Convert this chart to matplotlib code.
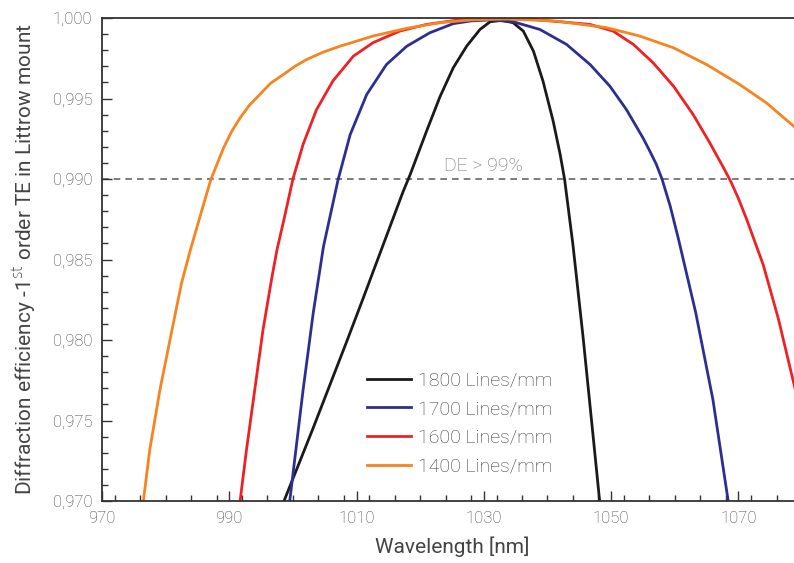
import matplotlib.pyplot as plt
from matplotlib.ticker import MultipleLocator, FuncFormatter

# values
wl_1800 = [997.9, 998.6, 1003.1, 1005.8, 1008.4, 1011.0, 1013.7, 1017.3, 1018.4, 1021.0, 1023.1, 1025.2,
           1027.3, 1029.4, 1031.0, 1032.8, 1034.6, 1036.2, 1037.8, 1039.3, 1040.9, 1042.0,
           1042.7, 1044.0, 1045.6, 1047.2, 1048.2, 1048.4]
de_1800 = [0.9693, 0.9700, 0.97445, 0.97720, 0.97985, 0.98255, 0.98540, 0.98920, 0.99025, 0.99297, 0.99510, 0.99691,
           0.99825, 0.99929, 0.99977, 0.99985, 0.99971, 0.99919, 0.99794, 0.99608, 0.99359, 0.99152,
           0.98996, 0.98593, 0.98017, 0.97393, 0.97000, 0.96920]

wl_1700 = [999.3, 999.5, 1001.6, 1003.2, 1004.8, 1007.1, 1009.0, 1011.6, 1014.7, 1017.9,
           1021.5, 1025.2, 1028.0, 1031.0, 1034.6, 1038.8, 1043.0, 1046.7, 1049.8, 1052.4,
           1055.0, 1056.0, 1057.1, 1058.0, 1059.3, 1060.6, 1063.3, 1066.0, 1068.4, 1068.6]
de_1700 = [0.9694, 0.9700, 0.97690, 0.98170, 0.98580, 0.98996, 0.99276, 0.99525, 0.99711, 0.99825,
           0.99908, 0.99965, 0.99982, 0.99988, 0.99977, 0.99929, 0.99836, 0.99711, 0.99577, 0.99432,
           0.99256, 0.99180, 0.99092, 0.99000, 0.98830, 0.98625, 0.98170, 0.97630, 0.97000, 0.96950]

wl_1600 = [991.6, 991.7, 992.7, 994.0, 995.3, 996.7, 997.5, 998.6, 1000.0, 1001.6,
           1003.7, 1006.3, 1009.5, 1012.6, 1016.8, 1021.0, 1026.0, 1032.0, 1038.0, 1042.5,
           1046.7, 1050.3, 1053.5, 1056.6, 1059.8, 1062.9, 1065.5, 1067.6, 1068.8, 1070.0,
           1071.3, 1073.9, 1076.3, 1078.7, 1080.0]
de_1600 = [0.9697, 0.9700, 0.97317, 0.97690, 0.98063, 0.98390, 0.98561, 0.98750, 0.99000, 0.99215,
           0.99430, 0.99610, 0.99763, 0.99847, 0.99919, 0.99960, 0.99988, 0.99998, 0.99990, 0.99975,
           0.99960, 0.99919, 0.99836, 0.99722, 0.99577, 0.99400, 0.99225, 0.99075, 0.98985, 0.98880,
           0.98750, 0.98468, 0.98130, 0.97732, 0.97520]

wl_1400 = [976.4, 976.5, 977.5, 979.1, 981.0, 982.5, 983.9, 985.5, 987.1, 989.1, 990.3,
           991.7, 993.2, 994.8, 996.5, 998.5, 1000.3, 1002.2, 1004.7, 1007.4, 1012.6, 1017.9,
           1023.1, 1028.0, 1033.6, 1041.4, 1049.3, 1054.5, 1059.8, 1065.0, 1070.2, 1074.4,
           1078.7, 1080.0]
de_1400 = [0.9697, 0.9700, 0.97317, 0.97690, 0.98063, 0.98354, 0.98561, 0.98780, 0.98996, 0.99193, 0.99290,
           0.99380, 0.99460, 0.99525, 0.99595, 0.99649, 0.99700, 0.99743, 0.99787, 0.99825, 0.99888, 0.99936,
           0.99971, 0.99988, 0.99994, 0.99981, 0.99940, 0.99888, 0.99815, 0.99711, 0.99587, 0.99473,
           0.99328, 0.99280]

series = [
    (wl_1800, de_1800, '#1a1a1a', '1800 Lines/mm'),
    (wl_1700, de_1700, '#2e2e92', '1700 Lines/mm'),
    (wl_1600, de_1600, '#ee2124', '1600 Lines/mm'),
    (wl_1400, de_1400, '#f7841f', '1400 Lines/mm'),
]
threshold = 0.990

plt.rcParams['font.family'] = ['Roboto', 'DejaVu Sans']
plt.rcParams['font.weight'] = 'light'

fig = plt.figure(figsize=(7.94, 5.63), dpi=100)
ax = fig.add_axes([102 / 794, 62 / 563, 700 / 794, 483 / 563])

for wl, de, col, lab in series:
    ax.plot(wl, de, color=col, lw=2, label=lab, solid_joinstyle='round')

ax.axhline(threshold, color='#666666', lw=1.2, ls=(0, (4, 3)), zorder=0)
ax.text(1030, 0.99052, 'DE > 99%', ha='center', va='baseline', fontsize=14, color='#6e6e6e')

ax.set_xlim(970, 1080)
ax.set_ylim(0.970, 1.000)
ax.xaxis.set_major_locator(MultipleLocator(20))
ax.xaxis.set_minor_locator(MultipleLocator(4))
ax.yaxis.set_major_locator(MultipleLocator(0.005))
ax.yaxis.set_minor_locator(MultipleLocator(0.001))
ax.yaxis.set_major_formatter(FuncFormatter(lambda v, p: f'{v:.3f}'.replace('.', ',')))
ax.set_xticks([970, 990, 1010, 1030, 1050, 1070])

ax.tick_params(which='both', direction='in', top=False, right=False,
               labelsize=12, labelcolor='#444444', color='#333333', width=1)
ax.tick_params(which='major', length=7, pad=7)
ax.tick_params(which='minor', length=4)

for s in ['left', 'bottom', 'top']:
    ax.spines[s].set_color('#333333')
    ax.spines[s].set_linewidth(1.3)
ax.spines['right'].set_visible(False)

ax.set_xlabel('Wavelength [nm]', fontsize=15, color='#444444', labelpad=8)
ax.set_ylabel('Diffraction efficiency -1$^{\\mathrm{st}}$ order TE in Littrow mount',
              fontsize=15, color='#444444', labelpad=10)

leg = ax.legend(loc='upper left', bbox_to_anchor=(0.378, 0.268), frameon=False,
                fontsize=14, handlelength=2.27, handletextpad=0.36, labelspacing=0.55,
                borderpad=0, borderaxespad=0)
for t in leg.get_texts():
    t.set_color('#3a3a3a')

fig.savefig('out.png', dpi=100)
